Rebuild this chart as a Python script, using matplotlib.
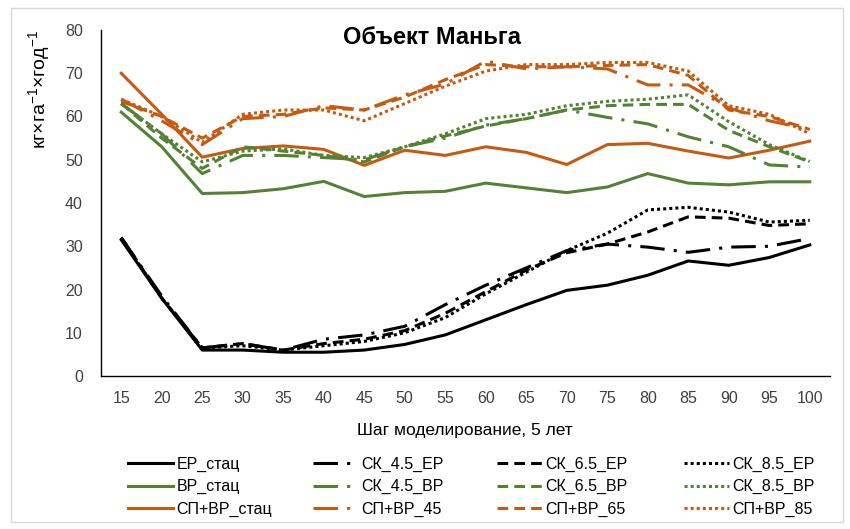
import matplotlib
matplotlib.use("Agg")
import matplotlib.pyplot as plt
from matplotlib.patches import Rectangle

plt.rcParams["font.family"] = ["Liberation Sans", "DejaVu Sans"]

steps = [15, 20, 25, 30, 35, 40, 45, 50, 55, 60, 65, 70, 75, 80, 85, 90, 95, 100]

er_stat = [31.5, 18.0, 6.0, 6.0, 5.5, 5.5, 6.0, 7.3, 9.5, 13.0, 16.5, 19.8, 21.0, 23.3, 26.6, 25.6, 27.4, 30.3]
sk45_er = [32.0, 18.5, 6.5, 7.5, 6.0, 8.5, 9.5, 11.5, 16.5, 21.0, 25.0, 29.0, 30.5, 29.8, 28.6, 29.8, 30.0, 31.8]
sk65_er = [32.0, 18.0, 6.5, 7.5, 6.0, 7.5, 8.5, 10.5, 14.5, 19.5, 24.5, 28.5, 30.5, 33.3, 36.8, 36.5, 34.8, 35.2]
sk85_er = [32.0, 18.0, 6.5, 7.0, 6.0, 7.0, 8.0, 10.0, 13.5, 19.0, 24.0, 29.0, 33.0, 38.4, 39.0, 37.9, 35.6, 36.0]

vr_stat = [61.0, 53.0, 42.2, 42.4, 43.3, 45.0, 41.5, 42.4, 42.7, 44.6, 43.5, 42.4, 43.7, 46.8, 44.6, 44.2, 44.9, 44.9]
sk45_vr = [63.0, 56.0, 46.8, 51.0, 51.0, 50.5, 50.0, 53.0, 55.0, 58.0, 59.5, 61.5, 59.8, 58.3, 55.3, 53.0, 48.8, 48.3]
sk65_vr = [63.0, 55.0, 48.0, 53.0, 52.0, 51.0, 49.5, 53.0, 55.5, 57.8, 59.5, 61.5, 62.5, 62.8, 62.8, 56.8, 53.0, 49.5]
sk85_vr = [63.0, 56.0, 49.5, 52.0, 52.5, 51.0, 50.5, 53.0, 56.0, 59.5, 60.5, 62.5, 63.5, 64.0, 65.0, 58.8, 53.5, 49.6]

sp_stat = [70.0, 60.5, 50.6, 52.6, 53.2, 52.4, 48.7, 52.2, 51.0, 53.0, 51.7, 48.9, 53.5, 53.8, 52.0, 50.4, 52.2, 54.3]
sp45 = [64.0, 59.0, 53.5, 59.5, 60.0, 62.5, 61.5, 65.0, 67.5, 72.8, 71.0, 71.5, 71.0, 67.3, 67.3, 62.0, 59.0, 57.0]
sp65 = [63.5, 60.0, 55.0, 60.0, 60.5, 62.0, 61.5, 64.5, 68.5, 72.0, 71.5, 71.5, 71.8, 72.0, 69.5, 61.5, 60.0, 57.0]
sp85 = [64.0, 60.0, 54.0, 60.5, 61.5, 61.5, 59.0, 63.0, 67.0, 70.5, 72.0, 72.0, 72.5, 72.5, 70.5, 62.5, 60.5, 56.0]

BLACK = "#000000"
GREEN = "#548235"
ORANGE = "#C55A11"

SOLID = None
LONG_DASH_DOT = (8, 3, 1, 3)
DASH = (3.5, 2)
DOT = (1, 1)

# one list per legend column (top to bottom)
columns = [
    [("ЕР_стац", er_stat, BLACK, SOLID), ("ВР_стац", vr_stat, GREEN, SOLID),
     ("СП+ВР_стац", sp_stat, ORANGE, SOLID)],
    [("СК_4.5_ЕР", sk45_er, BLACK, LONG_DASH_DOT), ("СК_4.5_ВР", sk45_vr, GREEN, LONG_DASH_DOT),
     ("СП+ВР_45", sp45, ORANGE, LONG_DASH_DOT)],
    [("СК_6.5_ЕР", sk65_er, BLACK, DASH), ("СК_6.5_ВР", sk65_vr, GREEN, DASH),
     ("СП+ВР_65", sp65, ORANGE, DASH)],
    [("СК_8.5_ЕР", sk85_er, BLACK, DOT), ("СК_8.5_ВР", sk85_vr, GREEN, DOT),
     ("СП+ВР_85", sp85, ORANGE, DOT)],
]

fig = plt.figure(figsize=(8.5, 5.29), dpi=100)
ax = fig.add_axes([0.1188, 0.2892, 0.8577, 0.6541])

x = list(range(len(steps)))
col_handles = []
for col in columns:
    hs = []
    for label, vals, color, dash in col:
        (ln,) = ax.plot(x, vals, color=color, lw=2.2, label=label,
                        solid_joinstyle="round", dash_capstyle="butt")
        if dash is not None:
            ln.set_dashes(dash)
        hs.append(ln)
    col_handles.append(hs)

ax.set_xlim(-0.5, len(steps) - 0.5)
ax.set_ylim(0, 80)
ax.set_xticks(x)
ax.set_xticklabels([str(s) for s in steps])
ax.set_yticks(range(0, 81, 10))
ax.tick_params(axis="both", length=0, labelsize=11.5, colors="#404040")
ax.tick_params(axis="y", pad=13)
ax.tick_params(axis="x", pad=11)
for side in ["top", "right"]:
    ax.spines[side].set_visible(False)
for side in ["left", "bottom"]:
    ax.spines[side].set_color("#000000")
    ax.spines[side].set_linewidth(1.0)

fig.text(0.508, 0.93, "Объект Маньга", ha="center", va="center",
         fontsize=17, fontweight="bold")
fig.text(0.047, 0.83, r"кг×га$^{\mathregular{-1}}$×год$^{\mathregular{-1}}$",
         rotation=90, ha="center", va="center", fontsize=14)
fig.text(0.547, 0.187, "Шаг моделирование, 5 лет", ha="center", va="center",
         fontsize=12.5)

# legend: four columns placed separately so their pitch is even
legend_x = [128, 313, 497, 684]
for hs, lx in zip(col_handles, legend_x):
    fig.legend(handles=hs, loc="upper left", bbox_to_anchor=(lx / 850, 1 - 457 / 529),
               frameon=False, fontsize=11.5, handlelength=2.8, handletextpad=0.25,
               labelspacing=0.45, borderpad=0, borderaxespad=0)

fig.patches.append(Rectangle((11 / 850, 7 / 529), 832 / 850, 514 / 529,
                             transform=fig.transFigure, fill=False,
                             edgecolor="#D9D9D9", lw=1.0))

fig.savefig("out.png", dpi=100)
